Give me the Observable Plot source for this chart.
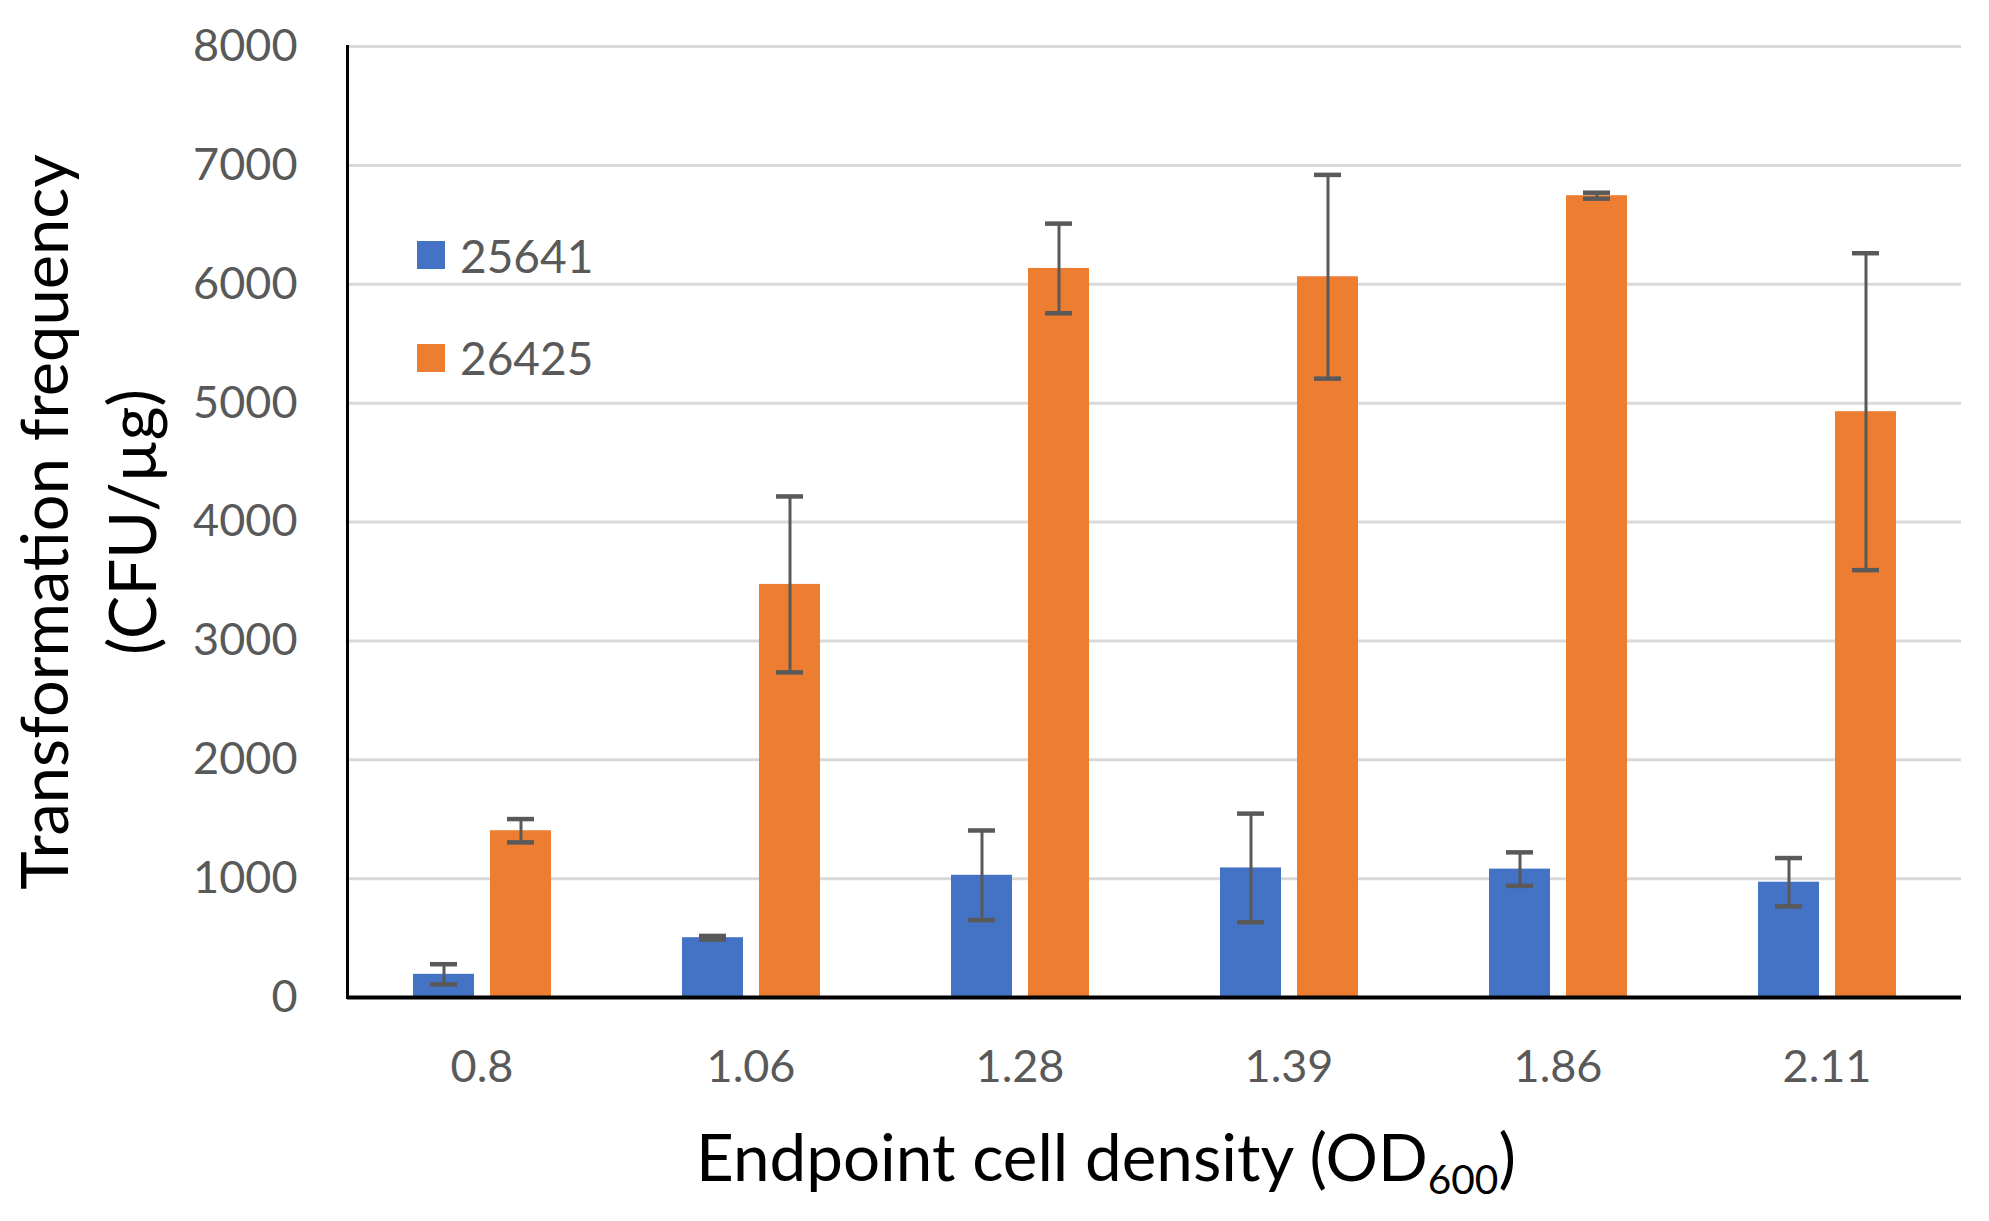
<!DOCTYPE html>
<html><head><meta charset="utf-8">
<script src="https://cdn.jsdelivr.net/npm/d3@7"></script>
<script src="https://cdn.jsdelivr.net/npm/@observablehq/plot@0.6"></script>
<style>
body{margin:0;background:#fff;font-family:Lato,sans-serif}
#wrap{position:relative;width:1989px;height:1221px;overflow:hidden}
#wrap svg{position:absolute;left:0;top:0}
.xtitle{position:absolute;left:0;top:1123px;width:2212px;text-align:center;font-size:65.5px;color:#000;white-space:nowrap;line-height:1}
.xtitle sub{font-size:0.62em;vertical-align:-0.32em;line-height:0}
.ytitle{position:absolute;left:87px;top:522px;transform:translate(-50%,-50%) rotate(-90deg);font-size:65px;color:#000;text-align:center;line-height:88px;white-space:nowrap}
.legend{position:absolute;left:417px;top:232px;font-size:46px;color:#595959}
.legend .item{display:flex;align-items:center;height:46px;margin-bottom:56.5px}
.legend .sw{width:28px;height:28px;margin-right:15px}
</style></head><body><div id="wrap"></div><script>
const categories = ["0.8","1.06","1.28","1.39","1.86","2.11"];
const series = ["25641","26425"];
const values25641 = [195, 503, 1028, 1090, 1080, 970];
const errors25641 = [85, 15, 377, 457, 141, 203];
const values26425 = [1403, 3475, 6133, 6063, 6745, 4928];
const errors26425 = [98, 740, 377, 857, 25, 1333];
const yTicks = [0,1000,2000,3000,4000,5000,6000,7000,8000];
const colors = ["#4472C4","#ED7D31"];

const rows = categories.flatMap((c,i)=>[
  {cat:c, series:series[0], value:values25641[i], err:errors25641[i]},
  {cat:c, series:series[1], value:values26425[i], err:errors26425[i]}
]);

const plot = Plot.plot({
  width:1989, height:1221,
  marginLeft:347, marginRight:28, marginTop:46, marginBottom:224,
  style:{fontFamily:"Lato, sans-serif", background:"transparent", overflow:"visible"},
  fx:{domain:categories, paddingInner:0, paddingOuter:0, label:null},
  x:{domain:series, paddingInner:0.21, paddingOuter:0.85, axis:null},
  y:{domain:[0,8000]},
  color:{domain:series, range:colors},
  marks:[
    Plot.ruleY(yTicks.slice(1), {stroke:"#d9d9d9", strokeWidth:3}),
    Plot.barY(rows, {fx:"cat", x:"series", y:"value", fill:"series"}),
    Plot.ruleX(rows, {fx:"cat", x:"series", y1:d=>d.value-d.err, y2:d=>d.value+d.err, stroke:"#595959", strokeWidth:3}),
    Plot.tickY(rows, {fx:"cat", x:"series", y:d=>d.value+d.err, stroke:"#595959", strokeWidth:4.5, insetLeft:17, insetRight:17}),
    Plot.tickY(rows, {fx:"cat", x:"series", y:d=>d.value-d.err, stroke:"#595959", strokeWidth:4.5, insetLeft:17, insetRight:17}),
    Plot.ruleY([0], {stroke:"#000", strokeWidth:4}),
    Plot.frame({anchor:"left", facetAnchor:"left", stroke:"#000", strokeWidth:3}),
    Plot.axisY({ticks:yTicks, tickSize:0, tickPadding:50, fontSize:45, color:"#595959", label:null, tickFormat:d=>String(d)}),
    Plot.axisFx({anchor:"bottom", tickSize:0, tickPadding:53, fontSize:45, color:"#595959", label:null})
  ]
});
const wrap = document.getElementById("wrap");
wrap.appendChild(plot);

const xt = document.createElement("div");
xt.className = "xtitle";
xt.innerHTML = "Endpoint cell density (OD<sub>600</sub>)";
wrap.appendChild(xt);

const yt = document.createElement("div");
yt.className = "ytitle";
yt.innerHTML = "Transformation frequency<br>(CFU/µg)";
wrap.appendChild(yt);

const lg = document.createElement("div");
lg.className = "legend";
series.forEach((s,i)=>{
  const it = document.createElement("div");
  it.className = "item";
  it.innerHTML = `<span class="sw" style="background:${colors[i]}"></span><span>${s}</span>`;
  lg.appendChild(it);
});
wrap.appendChild(lg);
</script></body></html>
